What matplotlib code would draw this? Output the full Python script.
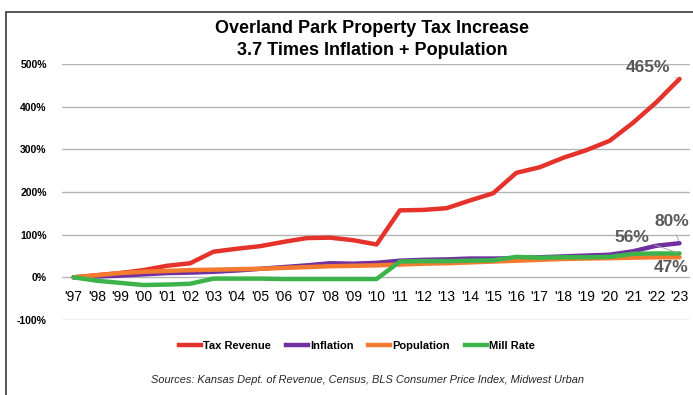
import matplotlib.pyplot as plt
from matplotlib.patches import Rectangle
from matplotlib.lines import Line2D

years = ["'97", "'98", "'99", "'00", "'01", "'02", "'03", "'04", "'05", "'06",
         "'07", "'08", "'09", "'10", "'11", "'12", "'13", "'14", "'15", "'16",
         "'17", "'18", "'19", "'20", "'21", "'22", "'23"]

tax_revenue = [0, 5, 10, 17, 27, 33, 60, 67, 73, 83, 92, 93, 87, 77, 157, 158,
               162, 180, 197, 245, 258, 280, 298, 320, 362, 410, 465]
inflation = [0, 2, 4, 7, 10, 11, 13, 16, 20, 24, 28, 33, 32, 34, 39, 41, 42,
             44, 44, 45, 47, 49, 51, 53, 61, 74, 80]
population = [0, 5, 10, 13, 15, 17, 18, 19, 20, 22, 24, 26, 27, 28, 30, 32, 33,
              35, 37, 39, 41, 43, 44, 45, 46, 47, 47]
mill_rate = [0, -8, -13, -18, -17, -15, -3, -3, -3, -4, -4, -4, -4, -4, 37, 38,
             38, 39, 40, 48, 46, 47, 47, 48, 55, 56, 56]

series = [
    ("Tax Revenue", tax_revenue, "#E5322B"),
    ("Inflation", inflation, "#7030A0"),
    ("Population", population, "#F47A30"),
    ("Mill Rate", mill_rate, "#3CB44B"),
]

plt.rcParams['font.family'] = ['Liberation Sans', 'DejaVu Sans']

fig = plt.figure(figsize=(6.93, 3.95), dpi=100)
ax = fig.add_axes([62 / 693, 75 / 395, 628 / 693, 256 / 395])

x = list(range(len(years)))
for name, vals, col in series:
    ax.plot(x, vals, color=col, lw=3.2, label=name, solid_capstyle='round',
            solid_joinstyle='round')

ax.set_xlim(-0.5, 26.45)
ax.set_ylim(-100, 500)
ax.set_yticks(range(-100, 501, 100))
ax.set_yticklabels([f"{v}%" for v in range(-100, 501, 100)],
                   fontsize=7.5, fontweight='bold')
ax.set_xticks(x)
ax.set_xticklabels(years, fontsize=7.5, fontweight='bold')
ax.spines['bottom'].set_position(('data', 0))
for s in ax.spines.values():
    s.set_visible(False)
ax.tick_params(axis='both', length=0)
ax.tick_params(axis='x', pad=9)
ax.tick_params(axis='y', pad=11)
ax.grid(axis='y', color='#b4b4b4', lw=1)
ax.set_axisbelow(True)

# end-of-series value labels
lab = dict(color='#595959', fontsize=12.5, fontweight='bold')
arrow = dict(arrowstyle='-', color='#a6a6a6', lw=0.7)
ax.annotate(f"{tax_revenue[-1]}%", xy=(26, tax_revenue[-1]), xytext=(25.6, 491),
            ha='right', va='center', arrowprops=arrow, **lab)
ax.annotate(f"{inflation[-1]}%", xy=(26, inflation[-1]), xytext=(26.4, 130),
            ha='right', va='center', arrowprops=arrow, **lab)
ax.annotate(f"{mill_rate[-1]}%", xy=(26, mill_rate[-1]), xytext=(24.7, 112),
            ha='right', va='top', arrowprops=arrow, **lab)
ax.text(26.4, 40, f"{population[-1]}%", ha='right', va='top', **lab)

fig.text(0.537, 0.9, "Overland Park Property Tax Increase\n3.7 Times Inflation + Population",
         ha='center', va='center', fontsize=13, fontweight='bold',
         linespacing=1.45)

handles = [Line2D([0], [0], color=c, lw=3.2) for _, _, c in series]
fig.legend(handles, [n for n, _, _ in series], loc='center',
           bbox_to_anchor=(0.515, 0.124), ncol=4, frameon=False,
           prop={'weight': 'bold', 'size': 8}, handlelength=2.0,
           handletextpad=0.2, columnspacing=1.3)

fig.text(0.53, 0.037, "Sources: Kansas Dept. of Revenue, Census, BLS Consumer Price Index, Midwest Urban",
         ha='center', va='center', fontsize=7.9, style='italic', color='#262626')

fig.patches.append(Rectangle((6 / 693, -0.1), 1.2, (395 - 12) / 395 + 0.1,
                             transform=fig.transFigure, fill=False,
                             edgecolor='#3a3a3a', lw=1.2))

fig.savefig("out.png", dpi=100)
